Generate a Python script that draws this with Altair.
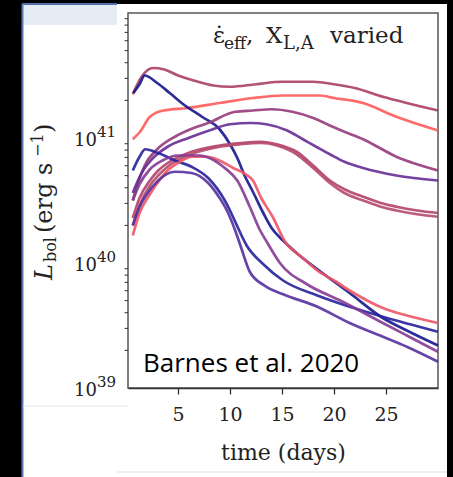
import altair as alt
import pandas as pd

# ---------------- data ----------------
series_names = ["A", "B", "C", "D1", "D2", "E1", "E2", "F", "G", "H", "I"]

A_days = [0.65, 1.5, 2.6, 3.6, 5, 6.5, 8.4, 10, 12.5, 15, 18, 20, 22, 24.7, 27, 30]
A_log = [41.35, 41.49, 41.56, 41.55, 41.50, 41.46, 41.42, 41.41, 41.43, 41.45, 41.45, 41.43, 41.40, 41.33, 41.28, 41.22]

B_days = [0.65, 1.35, 2.3, 3.6, 5.9, 9, 12.2, 15.1, 18.6, 20, 22.8, 26, 30]
B_log = [40.99, 41.05, 41.17, 41.22, 41.24, 41.28, 41.32, 41.34, 41.34, 41.32, 41.28, 41.17, 41.06]

C_days = [0.7, 1.3, 1.8, 3.0, 4.2, 5.5, 7.3, 9.0, 10.0, 10.7, 11.4, 12.2, 13.2, 14.0, 15.1, 16.4, 18.4, 21.5, 24.7, 27, 30]
C_log = [41.36, 41.43, 41.50, 41.44, 41.36, 41.27, 41.17, 41.07, 40.95, 40.84, 40.70, 40.57, 40.40, 40.28, 40.18, 40.08, 39.95, 39.76, 39.56, 39.46, 39.34]

D1_days = [0.65, 1.2, 1.8, 3.0, 4.7, 6.5, 7.9, 10.5, 12.2, 14, 16, 18, 19.6, 21, 22.8, 24.4, 26, 27.6, 30]
D1_log = [40.50, 40.65, 40.78, 40.91, 41.01, 41.08, 41.12, 41.21, 41.22, 41.23, 41.21, 41.16, 41.10, 41.05, 40.99, 40.92, 40.85, 40.80, 40.74]

D2_days = [0.65, 1.5, 2.6, 4, 6, 8, 10, 12, 13.5, 15.5, 17, 18.5, 19.6, 21, 22.8, 26, 30]
D2_log = [40.56, 40.72, 40.84, 40.93, 41.00, 41.06, 41.11, 41.12, 41.11, 41.06, 40.99, 40.92, 40.87, 40.81, 40.76, 40.70, 40.66]

E_days = [0.65, 1.3, 2.3, 3.1, 4.0, 6.3, 9, 11, 13, 14.5, 16.4, 18, 19.6, 21, 22.8, 24.5, 26, 28, 30]
E1_log = [40.36, 40.52, 40.66, 40.74, 40.80, 40.89, 40.94, 40.96, 40.97, 40.95, 40.89, 40.78, 40.66, 40.59, 40.53, 40.48, 40.45, 40.42, 40.40]
E2_log = [40.30, 40.46, 40.62, 40.70, 40.77, 40.87, 40.93, 40.95, 40.96, 40.94, 40.87, 40.76, 40.64, 40.56, 40.50, 40.45, 40.42, 40.39, 40.37]

F_days = [0.65, 1.3, 1.85, 3.1, 4.7, 6.3, 7.9, 9.5, 10.0, 10.5, 11.6, 13.2, 15.1, 18.4, 21.5, 24.7, 30]
F_log = [40.74, 40.85, 40.91, 40.88, 40.82, 40.77, 40.68, 40.50, 40.42, 40.33, 40.14, 39.99, 39.86, 39.74, 39.65, 39.57, 39.45]

G_days = [0.65, 1.3, 2.3, 3.1, 4.0, 5.0, 6.4, 7.8, 9.0, 10.3, 11.5, 12.2, 13.0, 14.1, 15.3, 17, 18.4, 20, 21.5, 24.7, 27, 30]
G_log = [40.22, 40.40, 40.55, 40.65, 40.74, 40.80, 40.85, 40.85, 40.82, 40.76, 40.71, 40.66, 40.52, 40.37, 40.17, 40.04, 39.94, 39.86, 39.78, 39.64, 39.58, 39.52]

H_days = [0.65, 1.3, 2.3, 3.5, 5, 7, 8.5, 9.5, 10.7, 11.9, 12.9, 13.6, 14.8, 17.4, 20.6, 24.7, 27, 30]
H_log = [40.50, 40.63, 40.75, 40.82, 40.86, 40.86, 40.82, 40.76, 40.66, 40.45, 40.26, 40.16, 40.00, 39.83, 39.70, 39.52, 39.42, 39.29]

I_days = [0.65, 1.3, 2.0, 3.1, 4.7, 6.3, 7.9, 9.0, 9.7, 10.5, 11.0, 11.9, 13.3, 15.1, 18.4, 21.5, 24.7, 27, 30]
I_log = [40.30, 40.45, 40.55, 40.66, 40.73, 40.72, 40.64, 40.52, 40.42, 40.26, 40.14, 39.93, 39.82, 39.75, 39.65, 39.52, 39.41, 39.33, 39.21]

curves = {
    "A": (A_days, A_log), "B": (B_days, B_log), "C": (C_days, C_log),
    "D1": (D1_days, D1_log), "D2": (D2_days, D2_log),
    "E1": (E_days, E1_log), "E2": (E_days, E2_log),
    "F": (F_days, F_log), "G": (G_days, G_log),
    "H": (H_days, H_log), "I": (I_days, I_log),
}

decades = [1e39, 1e40, 1e41, 1e42]
decade_exps = ["39", "40", "41"]
x_ticks = [5, 10, 15, 20, 25]

# ---------------- styles ----------------
colors = ["#ab3f68", "#ff5a5a", "#16168f", "#963a7c", "#672c96",
          "#b2436b", "#b64a6c", "#26229c", "#ee5566", "#853a94", "#55309f"]
SERIF = "DejaVu Serif"

rows = []
for name in series_names:
    d, lg = curves[name]
    for dd, v in zip(d, lg):
        rows.append({"series": name, "day": dd, "L": 10 ** v})
df = pd.DataFrame(rows)

minor = [m * 10 ** e for e in (39, 40, 41) for m in range(2, 10)]
minor_df = pd.DataFrame({"v": minor})
lab_df = pd.DataFrame({"v": decades[:3], "exp": decade_exps})
one = pd.DataFrame({"k": [0]})

yscale = alt.Scale(type="log", domain=[1e39, 1e42], nice=False)
xscale = alt.Scale(domain=[0.19, 30], nice=False, zero=False)

lines = alt.Chart(df).mark_line(strokeWidth=2.7, opacity=0.9, interpolate="monotone").encode(
    x=alt.X("day:Q", scale=xscale,
            axis=alt.Axis(values=x_ticks, tickSize=6, tickWidth=1.3, tickColor="#333",
                          domainColor="#333", domainWidth=1.5, grid=False,
                          labelFont=SERIF, labelFontSize=19, labelColor="#222",
                          labelPadding=11, title="time (days)", titleFont=SERIF,
                          titleFontSize=22, titleFontWeight="normal", titleColor="#222",
                          titlePadding=18, zindex=1)),
    y=alt.Y("L:Q", scale=yscale,
            axis=alt.Axis(values=decades, tickSize=6, tickWidth=1.3, tickColor="#333",
                          domainColor="#333", domainWidth=1.5, grid=False,
                          labels=False, title=None, zindex=1)),
    color=alt.Color("series:N", scale=alt.Scale(domain=series_names, range=colors), legend=None),
    detail="series:N",
)

minor_ticks = alt.Chart(minor_df).mark_rule(color="#333", strokeWidth=1).encode(
    y=alt.Y("v:Q", scale=yscale, axis=None),
    x=alt.value(-3.5), x2=alt.value(0),
)

ten = alt.Chart(lab_df).mark_text(font=SERIF, fontSize=18, align="right",
                                  baseline="alphabetic", dy=8, color="#222").encode(
    y=alt.Y("v:Q", scale=yscale, axis=None), x=alt.value(-31), text=alt.value("10"))
expo = alt.Chart(lab_df).mark_text(font=SERIF, fontSize=15, align="left",
                                   baseline="alphabetic", dy=-1, color="#222").encode(
    y=alt.Y("v:Q", scale=yscale, axis=None), x=alt.value(-31), text="exp:N")


def txt(s, x, y, size, **kw):
    return alt.Chart(one).mark_text(font=SERIF, fontSize=size, align="left",
                                    baseline="alphabetic", color="#222", **kw).encode(
        x=alt.value(x), y=alt.value(y), text=alt.value(s))


def rect(x1, x2, y1, y2, color):
    return alt.Chart(one).mark_rect(color=color).encode(
        x=alt.value(x1), x2=alt.value(x2), y=alt.value(y1), y2=alt.value(y2))


def rule(x1, x2, y1, y2, color, w):
    return alt.Chart(one).mark_rule(color=color, strokeWidth=w).encode(
        x=alt.value(x1), x2=alt.value(x2), y=alt.value(y1), y2=alt.value(y2))


# annotation  ε̇_eff, X_L,A varied
ann = [
    txt("ε\u0307", 85, 30, 23),
    txt("eff", 96, 36, 17),
    txt(",", 118, 30, 23),
    txt("X", 138, 30, 23),
    txt("L,A", 155, 36, 18),
    txt("varied", 202, 30, 23),
]

# y-axis title  L_bol (erg s^-1), rotated
ytitle = [
    txt("L", -76, 267, 24, angle=270, fontStyle="italic"),
    txt("bol", -72, 249, 16, angle=270),
    txt("(erg s", -76, 220, 24, angle=270),
    txt("\u22121", -85, 144, 16, angle=270),
    txt(")", -76, 120, 24, angle=270),
]

barnes = alt.Chart(one).mark_text(font="Open Sans", fontSize=26, align="left",
                                  baseline="alphabetic", color="black").encode(
    x=alt.value(15), y=alt.value(359), text=alt.value("Barnes et al. 2020"))

decor = [
    rect(-128, -106, -13, 464, "black"),
    rect(319, 325, -13, 464, "black"),
    rect(-128, 325, -13, -9, "black"),
    rect(-105, -11, -9, 12, "#e6ecf5"),
    rule(-106, -11, -9, -9, "#4f6fa8", 2),
    rule(-105.5, -105.5, -9, 464, "#5b7bb5", 2),
    rule(-105, 0, 393, 393, "#e2e6ec", 1),
    rule(-11, 319, 459, 459, "#dddddd", 1),
]

chart = alt.layer(
    *decor, lines, minor_ticks, ten, expo, *ann, *ytitle, barnes
).properties(
    width=310, height=375,
    padding={"left": 128, "top": 13, "right": 15, "bottom": 89},
    autosize=alt.AutoSizeParams(type="none"),
    background="white",
).configure_view(stroke="#555", strokeWidth=1.5)

chart.save("out.html", embed_options={"renderer": "svg", "actions": False})
